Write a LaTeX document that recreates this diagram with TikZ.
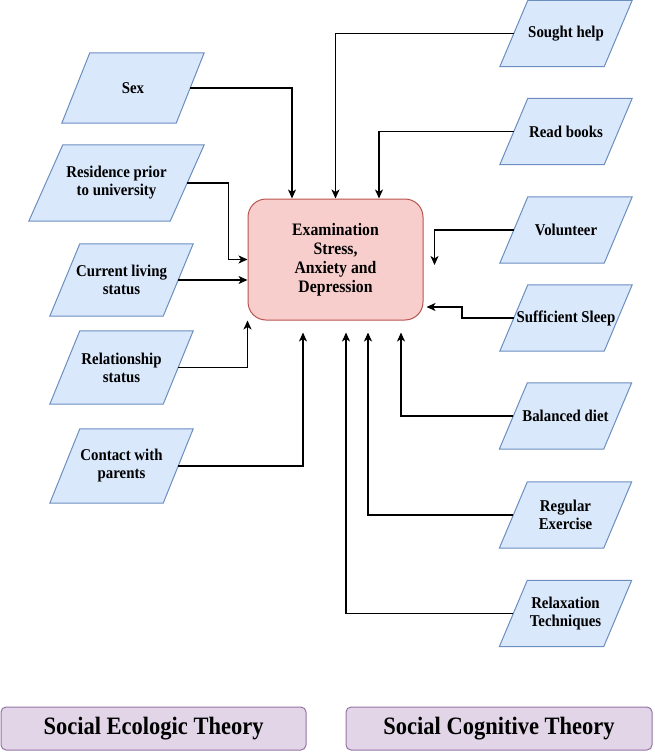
\documentclass[tikz,border=0pt]{standalone}
\usepackage{fontspec}
\setmainfont{Liberation Serif}[FakeStretch=0.9]
\usepackage{xcolor}
\usepackage{tikz}
\usetikzlibrary{arrows.meta, calc, backgrounds}
\definecolor{factorBlue}{HTML}{DAE8FC}
\definecolor{factorEdge}{HTML}{6C8EBF}
\definecolor{outcomeRed}{HTML}{F8CECC}
\definecolor{outcomeEdge}{HTML}{B85450}
\definecolor{theoryLilac}{HTML}{E1D5E7}
\definecolor{theoryEdge}{HTML}{9673A6}
\tikzstyle{factor}   = [rectangle, inner sep=0pt, align=center,
                         font=\fontsize{16.5}{18}\selectfont\bfseries]
\tikzstyle{slanted}  = [draw=factorEdge, fill=factorBlue, line width=1pt, line join=miter]
\tikzstyle{arrow}    = [-{Stealth[length=9pt, width=8pt, inset=2.5pt]}, line width=1.4pt]

\begin{document}
\begin{tikzpicture}[x=1pt, y=-1pt,
  outcome box/.style={draw=outcomeEdge, fill=outcomeRed, rounded corners=18pt, minimum width=175pt, minimum height=121pt, line width=1pt, align=center, font=\fontsize{17.5}{19}\selectfont\bfseries},
  theory box/.style={draw=theoryEdge, fill=theoryLilac, rounded corners=5pt, minimum width=305pt, minimum height=43pt, line width=1pt, font=\fontsize{25}{28}\selectfont\bfseries},
  left factor/.style={factor, minimum width=113pt, minimum height=73pt},
  right factor/.style={factor, minimum width=104pt, minimum height=66pt}
]
  \useasboundingbox (0,0) rectangle (654,752);

  % Outcome
  \node[outcome box] (stress) at (335.5,259.5) {Examination\\Stress,\\Anxiety and\\Depression};

  % Social ecologic factors
  \node[left factor, minimum width=114pt, minimum height=70pt] (sex) at (133,88) {Sex};
  \node[left factor, minimum width=141pt, minimum height=76pt] (residence) at (116.5,183) {Residence prior\\to university};
  \node[left factor, minimum height=72pt] (living) at (121.5,280) {Current living\\status};
  \node[left factor] (relation) at (121.5,367.5) {Relationship\\status};
  \node[left factor, minimum height=74pt] (parents) at (121.5,466) {Contact with\\parents};

  % Social cognitive factors
  \node[right factor] (help) at (566,33.5) {Sought help};
  \node[right factor] (books) at (566,131.5) {Read books};
  \node[right factor] (volunteer) at (566,230) {Volunteer};
  \node[right factor] (sleep) at (566,318) {Sufficient Sleep};
  \node[right factor] (diet) at (565.5,416) {Balanced diet};
  \node[right factor] (exercise) at (565.5,515) {Regular\\Exercise};
  \node[right factor] (relax) at (565.5,613.5) {Relaxation\\Techniques};

  % Parallelogram outlines behind the factor texts
  \begin{scope}[on background layer]
    \foreach \n/\s in {sex/28, residence/34, living/30, relation/30, parents/30,
                       help/28, books/28, volunteer/28, sleep/28, diet/28, exercise/28, relax/28}
      \draw[slanted] ($(\n.south west)+(-\s/2,0)$) -- ($(\n.south east)+(-\s/2,0)$)
                  -- ($(\n.north east)+(\s/2,0)$) -- ($(\n.north west)+(\s/2,0)$) -- cycle;
  \end{scope}

  % Theories
  \node[theory box] (ecologic) at (153.5,728.5) {Social Ecologic Theory};
  \node[theory box, minimum width=306pt] (cognitive) at (499,728.5) {Social Cognitive Theory};

  % Left connectors
  \draw[arrow] (sex.east) -| ([xshift=-43.5pt]stress.north);
  \draw[arrow] (residence.east) -- ++(41.5,0) |- (stress.west);
  \draw[arrow] (living.east) -- (living.east -| stress.west);
  \draw[arrow] (relation.east) -| (stress.south west);
  \draw[arrow] (parents.east) -| ([xshift=-32.5pt, yshift=-12pt]stress.south);

  % Right connectors
  \draw[arrow] (help.west) -| (stress.north);
  \draw[arrow] (books.west) -| ([xshift=43.5pt]stress.north);
  \draw[arrow] (volunteer.west) -| ([xshift=11pt, yshift=-5.5pt]stress.east);
  \draw[arrow] (sleep.west) -- ++(-52,0) |- ([xshift=3pt, yshift=-47.5pt]stress.east);
  \draw[arrow] (diet.west) -| ([xshift=65.5pt, yshift=-12pt]stress.south);
  \draw[arrow] (exercise.west) -| ([xshift=32.5pt, yshift=-12pt]stress.south);
  \draw[arrow] (relax.west) -| ([xshift=10.5pt, yshift=-12pt]stress.south);

\end{tikzpicture}
\end{document}
